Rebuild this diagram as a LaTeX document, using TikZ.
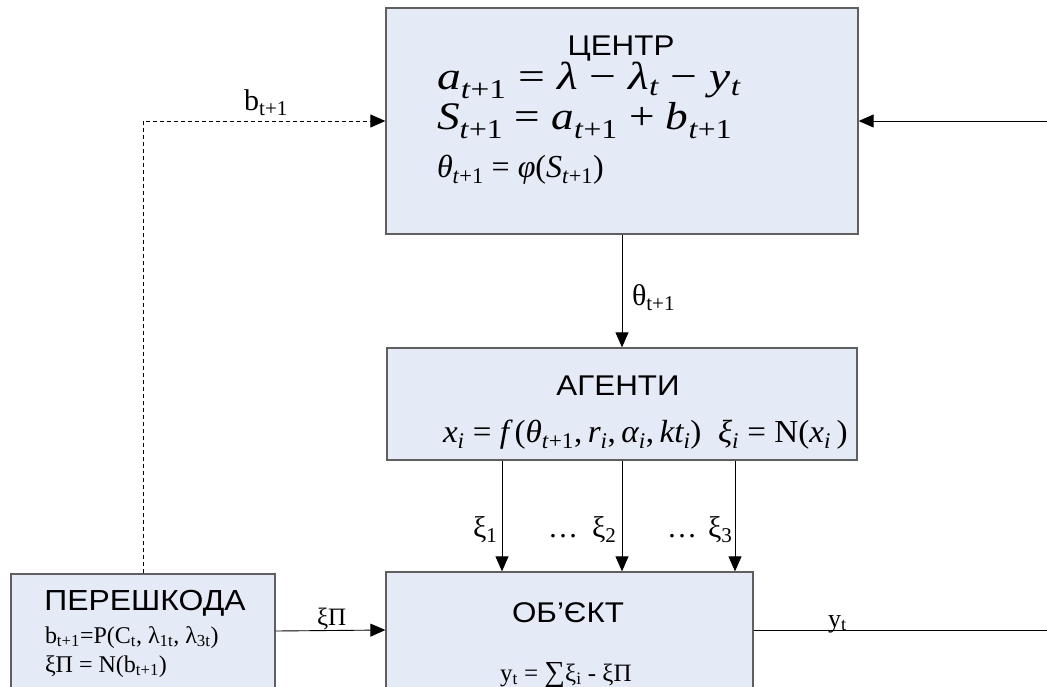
\documentclass[tikz,border=0pt]{standalone}
\usepackage{fontspec}
\setmainfont{Liberation Serif}
\newfontfamily\arialf{Liberation Sans}
\usetikzlibrary{arrows.meta}
\definecolor{boxfill}{RGB}{229,235,246}
\definecolor{boxline}{RGB}{95,95,95}
\newcommand{\lo}[1]{\textsubscript{#1}}
\newcommand{\up}[1]{\textup{#1}}
\newcommand{\fs}[1]{\fontsize{#1}{#1}\selectfont}
\newcommand{\hd}[1]{\scalebox{1.1}[1]{#1}}
\tikzset{
  blk/.style={draw=boxline, fill=boxfill, line width=1.3pt, inner sep=0pt},
  txt/.style={inner sep=0pt, outer sep=0pt},
  head/.style={txt, anchor=base, font=\arialf\fs{28.5}},
  lbl/.style={txt, anchor=base west, font=\fs{30}},
  arr/.style={-{Triangle[length=15pt,width=13pt]}, line width=0.9pt},
  dsh/.style={arr, dashed, dash pattern=on 4pt off 3pt}
}
\begin{document}
\begin{tikzpicture}[x=1pt,y=-1pt]
\clip (0,0) rectangle (1047,686);
% boxes
\node[blk, minimum width=472pt, minimum height=226pt] (center) at (622,121) {};
\node[blk, minimum width=470pt, minimum height=112pt] (agents) at (622,404) {};
\node[blk, minimum width=367pt, minimum height=116pt] (object) at (569.5,630) {};
\node[blk, minimum width=264pt, minimum height=114pt] (noise) at (143,631) {};
% box texts
\node[head] (hc) at (621,55) {\hd{ЦЕНТР}};
\node[txt, anchor=base west, font=\fs{39}\itshape] (eq1) at (437,89) {\scalebox{1.22}[1]{a\lo{t\up{+1}} \up{=} λ \up{−} λ\lo{t} \up{−} y\lo{t}}};
\node[txt, anchor=base west, font=\fs{39}\itshape] (eq2) at (437,129) {\scalebox{1.16}[1]{S\lo{t\up{+1}} \up{=} a\lo{t\up{+1}} \up{+} b\lo{t\up{+1}}}};
\node[txt, anchor=base west, font=\fs{32}\itshape] (eq3) at (437,177) {θ\lo{t\up{+1}} \up{=} φ\up{(}S\lo{t\up{+1}}\up{)}};
\node[head] (ha) at (618,395) {\hd{АГЕНТИ}};
\node[txt, anchor=base west, font=\fs{32}\itshape] (eqa) at (443,442) {\scalebox{1.035}[1]{x\lo{i} \up{=} f\,\up{(}θ\lo{t\up{+1}}\up{,}\,r\lo{i}\up{,}\,α\lo{i}\up{,}\,kt\lo{i}\up{)}\enspace ξ\lo{i} \up{=} \up{N(}x\lo{i}\,\up{)}}};
\node[head] (ho) at (568,622) {\hd{ОБ’ЄКТ}};
\node[txt, anchor=base west, font=\fs{25}] (eqo) at (500,681) {y\lo{t} = {\fs{29}∑}ξ\lo{i} - ξП};
\node[head, font=\arialf\fs{29}] (hn) at (145,610) {\hd{ПЕРЕШКОДА}};
\node[txt, anchor=base west, font=\fs{24}] (eqn1) at (45,643) {b\lo{t+1}=P(C\lo{t}, λ\lo{1t}, λ\lo{3t})};
\node[txt, anchor=base west, font=\fs{24}] (eqn2) at (45,672) {ξП = N(b\lo{t+1})};
% free ends
\coordinate (rin) at (1047,121);
\coordinate (yout) at (1047,630);
\coordinate (k1) at (502,0);
\coordinate (k2) at (622,0);
\coordinate (k3) at (735,0);
% connectors
\draw[dsh] (noise.north) |- (center.west);
\draw[arr] (rin) -- (center.east);
\draw[arr] (center.south) -- (agents.north);
\draw[arr] (agents.south -| k1) -- (object.north -| k1);
\draw[arr] (agents.south -| k2) -- (object.north -| k2);
\draw[arr] (agents.south -| k3) -- (object.north -| k3);
\draw[arr] (noise.east) -- (object.west);
\draw[line width=0.9pt] (object.east) -- (yout);
% labels
\node[lbl, anchor=base] (lb) at (266,110) {b\lo{t+1}};
\node[lbl] (lth) at (632,305) {θ\lo{t+1}};
\node[lbl] (lx1) at (473,537) {ξ\lo{1}};
\node[lbl] (ld1) at (548,537) {…};
\node[lbl] (lx2) at (592,537) {ξ\lo{2}};
\node[lbl] (ld2) at (667,537) {…};
\node[lbl] (lx3) at (708,537) {ξ\lo{3}};
\node[lbl, font=\fs{25}] (lxp) at (317,625) {ξП};
\node[lbl, font=\fs{26}] (ly) at (828,627) {y\lo{t}};
\end{tikzpicture}
\end{document}
